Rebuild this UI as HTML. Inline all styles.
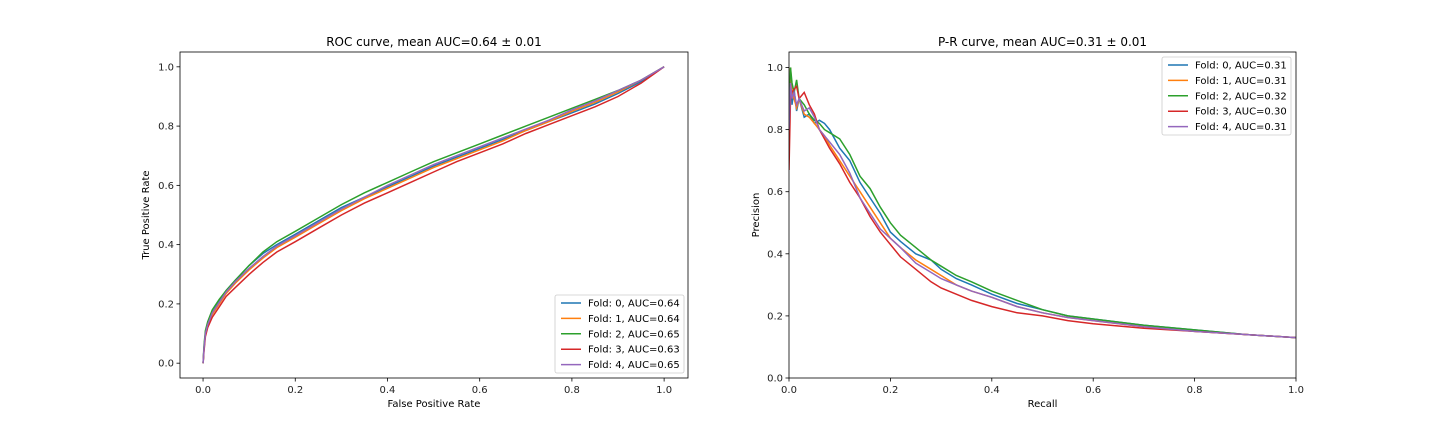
<!DOCTYPE html>
<html><head><meta charset="utf-8"><style>
body{margin:0;background:#fff;}
svg{display:block;font-family:"DejaVu Sans","Liberation Sans",sans-serif;}
</style></head><body>
<svg id="c" width="1440" height="432"></svg>
<script>
const rocFpr=[0,0.002,0.005,0.01,0.02,0.035,0.05,0.07,0.1,0.13,0.16,0.2,0.25,0.3,0.35,0.4,0.45,0.5,0.55,0.6,0.65,0.7,0.75,0.8,0.85,0.9,0.95,1.0];
const rocTpr0=[0,0.05,0.1,0.13,0.17,0.21,0.245,0.28,0.33,0.37,0.4,0.435,0.48,0.525,0.56,0.595,0.63,0.665,0.695,0.725,0.755,0.785,0.815,0.845,0.875,0.91,0.95,1.0];
const rocTpr1=[0,0.05,0.1,0.13,0.165,0.2,0.235,0.27,0.315,0.355,0.39,0.425,0.47,0.515,0.555,0.59,0.625,0.66,0.69,0.72,0.75,0.785,0.815,0.85,0.88,0.915,0.955,1.0];
const rocTpr2=[0,0.06,0.11,0.14,0.18,0.215,0.245,0.28,0.33,0.375,0.41,0.445,0.49,0.535,0.575,0.61,0.645,0.68,0.71,0.74,0.77,0.8,0.83,0.86,0.89,0.92,0.955,1.0];
const rocTpr3=[0,0.04,0.09,0.12,0.155,0.19,0.225,0.255,0.3,0.34,0.375,0.41,0.455,0.5,0.54,0.575,0.61,0.645,0.68,0.71,0.74,0.775,0.805,0.835,0.865,0.9,0.945,1.0];
const rocTpr4=[0,0.05,0.1,0.13,0.17,0.205,0.24,0.275,0.32,0.36,0.395,0.43,0.475,0.52,0.56,0.6,0.635,0.67,0.7,0.73,0.76,0.79,0.82,0.855,0.885,0.92,0.955,1.0];
const rocAuc=["0.64","0.64","0.65","0.63","0.65"];

const prRec=[0,0.003,0.006,0.01,0.015,0.02,0.03,0.04,0.05,0.06,0.07,0.08,0.1,0.12,0.14,0.16,0.18,0.2,0.22,0.25,0.28,0.3,0.33,0.36,0.4,0.45,0.5,0.55,0.6,0.7,0.8,0.9,1.0];
const prPre0=[0.85,1.0,0.88,0.93,0.86,0.9,0.84,0.85,0.82,0.83,0.82,0.8,0.74,0.7,0.63,0.58,0.53,0.47,0.44,0.4,0.38,0.35,0.32,0.3,0.27,0.24,0.22,0.2,0.19,0.17,0.155,0.14,0.13];
const prPre1=[0.9,1.0,0.92,0.9,0.87,0.9,0.85,0.84,0.82,0.8,0.78,0.75,0.7,0.65,0.6,0.55,0.5,0.45,0.42,0.38,0.35,0.33,0.3,0.28,0.26,0.23,0.21,0.195,0.185,0.165,0.15,0.14,0.13];
const prPre2=[0.88,1.0,0.95,0.92,0.96,0.9,0.88,0.85,0.83,0.82,0.8,0.79,0.77,0.72,0.65,0.61,0.55,0.5,0.46,0.42,0.38,0.36,0.33,0.31,0.28,0.25,0.22,0.2,0.19,0.17,0.155,0.14,0.13];
const prPre3=[0.67,0.9,0.92,0.93,0.94,0.9,0.92,0.88,0.85,0.8,0.77,0.74,0.69,0.63,0.58,0.52,0.47,0.43,0.39,0.35,0.31,0.29,0.27,0.25,0.23,0.21,0.2,0.185,0.175,0.16,0.15,0.14,0.13];
const prPre4=[0.8,0.95,0.9,0.92,0.88,0.9,0.86,0.87,0.84,0.8,0.78,0.76,0.72,0.66,0.58,0.53,0.48,0.45,0.42,0.37,0.34,0.32,0.3,0.28,0.26,0.23,0.21,0.195,0.185,0.165,0.15,0.14,0.13];
const prAuc=["0.31","0.31","0.32","0.30","0.31"];

const colors=["#1f77b4","#ff7f0e","#2ca02c","#d62728","#9467bd"];
const ticks=[0,0.2,0.4,0.6,0.8,1.0];
const NS="http://www.w3.org/2000/svg";
const svg=document.getElementById('c');
function mk(tag,attrs,parent){const e=document.createElementNS(NS,tag);for(const k in attrs)e.setAttribute(k,attrs[k]);(parent||svg).appendChild(e);return e;}
function txt(s,attrs,parent){const e=mk('text',attrs,parent);e.textContent=s;return e;}

function panel(opt){
  const g=mk('g',{});
  
  
  const L=opt.L,R=opt.R,T=52,B=378;
  const sx=v=>L+(v-opt.xmin)/(opt.xmax-opt.xmin)*(R-L);
  const sy=v=>B-(v-opt.ymin)/(opt.ymax-opt.ymin)*(B-T);
  const cl=mk('clipPath',{id:opt.name+'-clip'},g);
  mk('rect',{x:L,y:T,width:R-L,height:B-T},cl);
  const lg=mk('g',{'clip-path':'url(#'+opt.name+'-clip)'},g);
  opt.xs.forEach((xa,i)=>{});
  opt.ys.forEach((ya,i)=>{
    const pts=opt.x.map((xv,j)=>sx(xv).toFixed(1)+','+sy(ya[j]).toFixed(1)).join(' ');
    const p=mk('polyline',{points:pts,fill:'none',stroke:colors[i],'stroke-width':1.5},lg);
    
    
  });
  const fr=mk('rect',{x:L,y:T,width:R-L,height:B-T,fill:'none',stroke:'#000','stroke-width':0.8},g);
  
  
  ticks.forEach(t=>{
    const x=sx(t);
    mk('line',{x1:x,x2:x,y1:B,y2:B+3.5,stroke:'#000','stroke-width':0.8},g);
    const tl=txt(t.toFixed(1),{x:x,y:B+15,'text-anchor':'middle','font-size':10,fill:'#222'},g);
    
    
    const y=sy(t);
    mk('line',{x1:L-3.5,x2:L,y1:y,y2:y,stroke:'#000','stroke-width':0.8},g);
    const yl=txt(t.toFixed(1),{x:L-6,y:y+3.5,'text-anchor':'end','font-size':10,fill:'#222'},g);
    
    
  });
  const ti=txt(opt.title,{x:(L+R)/2,y:46,'text-anchor':'middle','font-size':12,fill:'#000'},g);
  
  
  const xl=txt(opt.xlabel,{x:(L+R)/2,y:407,'text-anchor':'middle','font-size':10,fill:'#000'},g);
  
  
  const yx=opt.ylx, yc=(T+B)/2;
  const yt=txt(opt.ylabel,{x:yx,y:yc,'text-anchor':'middle','font-size':10,fill:'#000',transform:'rotate(-90 '+yx+' '+yc+')'},g);
  
  
  // legend
  const lgd=mk('g',{},g);
  
  
  mk('rect',{x:opt.lx,y:opt.ly,width:129,height:78,rx:2,fill:'#fff','fill-opacity':0.85,stroke:'#ccc','stroke-width':0.8},lgd);
  opt.auc.forEach((a,i)=>{
    const ey=opt.ly+8+i*15.4;
    const en=mk('g',{},lgd);
    
    
    mk('line',{x1:opt.lx+6,x2:opt.lx+26,y1:ey,y2:ey,stroke:colors[i],'stroke-width':1.5},en);
    txt('Fold: '+i+', AUC='+a,{x:opt.lx+33,y:ey+3.5,'font-size':10,fill:'#000'},en);
  });
}
panel({name:'roc-chart',L:180,R:688,xmin:-0.05,xmax:1.0518,ymin:-0.05,ymax:1.05,x:rocFpr,xs:[],ys:[rocTpr0,rocTpr1,rocTpr2,rocTpr3,rocTpr4],
  title:'ROC curve, mean AUC=0.64 \u00b1 0.01',xlabel:'False Positive Rate',ylabel:'True Positive Rate',ylx:149,lx:555,ly:295,auc:rocAuc});
panel({name:'pr-chart',L:789,R:1296,xmin:0,xmax:1,ymin:0,ymax:1.05,x:prRec,xs:[],ys:[prPre0,prPre1,prPre2,prPre3,prPre4],
  title:'P-R curve, mean AUC=0.31 \u00b1 0.01',xlabel:'Recall',ylabel:'Precision',ylx:759,lx:1162,ly:57,auc:prAuc});
</script>
</body></html>
